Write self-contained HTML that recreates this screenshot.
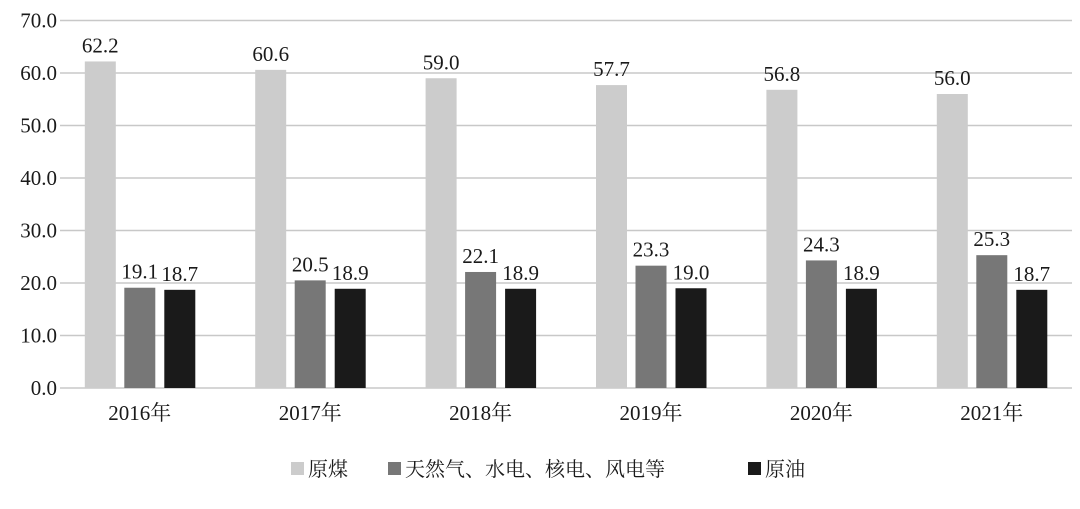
<!DOCTYPE html>
<html><head><meta charset="utf-8"><style>
body{margin:0;background:#fff;}
svg text{font-family:"Liberation Serif","Noto Serif CJK SC",serif;fill:#1a1a1a;}
</style></head><body>
<svg width="1080" height="504" xmlns="http://www.w3.org/2000/svg">
<g id="grid"></g><g id="bars"></g><g id="labels"></g>
<g font-size="20">
<g><rect x="291" y="462" width="13" height="13" fill="#cccccc"/><text x="308" y="476" font-size="20">原煤</text></g>
<g><rect x="388" y="462" width="13" height="13" fill="#777777"/><text x="405" y="476" font-size="20">天然气、水电、核电、风电等</text></g>
<g><rect x="748" y="462" width="13" height="13" fill="#1a1a1a"/><text x="765" y="476" font-size="20">原油</text></g>
</g>
</svg>
<script>
const categories=["2016年","2017年","2018年","2019年","2020年","2021年"];
const coal=[62.2,60.6,59.0,57.7,56.8,56.0];
const gas=[19.1,20.5,22.1,23.3,24.3,25.3];
const oil=[18.7,18.9,18.9,19.0,18.9,18.7];
const yTicks=[0,10,20,30,40,50,60,70];
const NS="http://www.w3.org/2000/svg";
const y=v=>388-v*5.25;
const groupX=i=>54.8+170.4*i;
function mk(parent,tag,attrs){const e=document.createElementNS(NS,tag);for(const k in attrs)e.setAttribute(k,attrs[k]);document.getElementById(parent).appendChild(e);return e;}
yTicks.forEach(t=>{
 const l=mk('grid','line',{x1:60,x2:1072,y1:y(t),y2:y(t),stroke:'#c8c8c8','stroke-width':1.5});
 
 
 const tx=mk('labels','text',{x:57,y:y(t)+7,'text-anchor':'end','font-size':21});
 tx.textContent=t.toFixed(1);
 
 
});
const series=[[coal,'#cccccc',30,'coal'],[gas,'#777777',69.5,'gas'],[oil,'#1a1a1a',109.5,'oil']];
categories.forEach((c,i)=>{
 const gx=groupX(i);
 series.forEach(([arr,col,off,nm])=>{
  const v=arr[i];
  const r=mk('bars','rect',{x:gx+off,y:y(v),width:31,height:y(0)-y(v),fill:col});
  
  
  const t=mk('labels','text',{x:gx+off+15.5,y:y(v)-9,'text-anchor':'middle','font-size':21});
  t.textContent=v.toFixed(1);
  
  
 });
 const xl=mk('labels','text',{x:gx+85,y:420,'text-anchor':'middle','font-size':21});
 xl.textContent=c;
 
 
});
</script>
</body></html>
